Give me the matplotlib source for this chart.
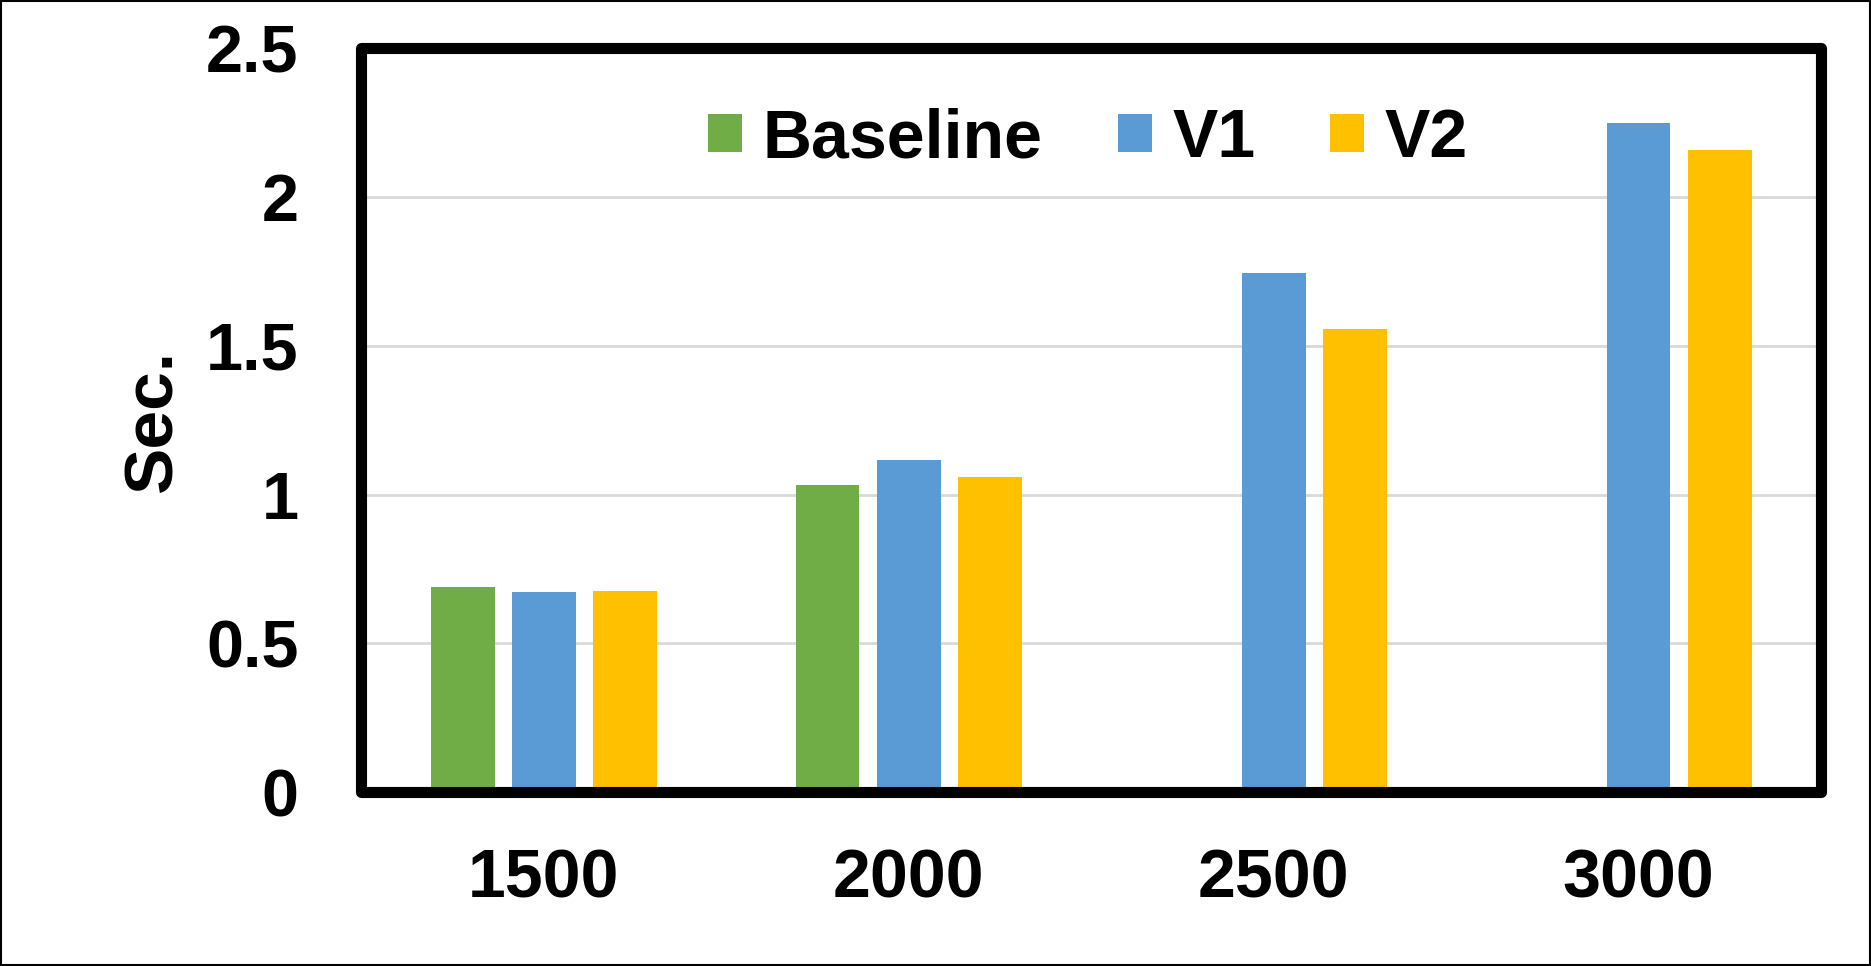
import numpy as np
import matplotlib.pyplot as plt
from matplotlib.patches import Rectangle

plt.rcParams['font.family'] = ['Liberation Sans', 'DejaVu Sans']
plt.rcParams['font.weight'] = 'bold'

categories = ["1500", "2000", "2500", "3000"]
series_names = ["Baseline", "V1", "V2"]
baseline = [0.69, 1.033, np.nan, np.nan]
v1 = [0.673, 1.118, 1.745, 2.25]
v2 = [0.677, 1.058, 1.557, 2.16]
colors = ["#70AD47", "#5B9BD5", "#FFC000"]

fig = plt.figure(figsize=(18.71, 9.66), dpi=100)
ax = fig.add_axes([0.193, 0.1801, 0.7803, 0.7697])

x = np.arange(len(categories))
width = 0.175
step = 0.222
for i, (name, vals, c) in enumerate(zip(series_names, [baseline, v1, v2], colors)):
    ax.bar(x + (i - 1) * step, vals, width, color=c, label=name, zorder=2)

ax.set_xlim(-0.5, len(categories) - 0.5)
ax.set_ylim(0, 2.5)
ax.set_yticks([0, 0.5, 1, 1.5, 2, 2.5])
ax.set_yticklabels(["0", "0.5", "1", "1.5", "2", "2.5"])
ax.set_xticks(x)
ax.set_xticklabels(categories)
ax.tick_params(axis='y', length=0, pad=45, labelsize=48)
ax.tick_params(axis='x', length=0, pad=40, labelsize=49)
ax.yaxis.grid(True, color="#d9d9d9", linewidth=2, zorder=0)
ax.set_axisbelow(True)
for s in ax.spines.values():
    s.set_visible(False)

# heavy frame with rounded corners
frame = Rectangle((0, 0), 1, 1, transform=ax.transAxes, fill=False,
                  edgecolor="black", linewidth=8, joinstyle="round",
                  clip_on=False, zorder=5)
ax.add_patch(frame)

ax.set_ylabel("Sec.", fontsize=50, fontweight="bold")
ax.yaxis.set_label_coords(-0.12, 0.5)

ax.legend(loc="center", bbox_to_anchor=(0.498, 0.878), ncol=3,
          frameon=False, fontsize=49, handlelength=0.5, handleheight=0.5,
          handletextpad=0.3, columnspacing=1.1)

# thin border around the figure
fig.patches.append(Rectangle((0.0005, 0.001), 0.999, 0.998, transform=fig.transFigure,
                             fill=False, edgecolor="black", linewidth=1.5))

fig.savefig("out.png", dpi=100)
